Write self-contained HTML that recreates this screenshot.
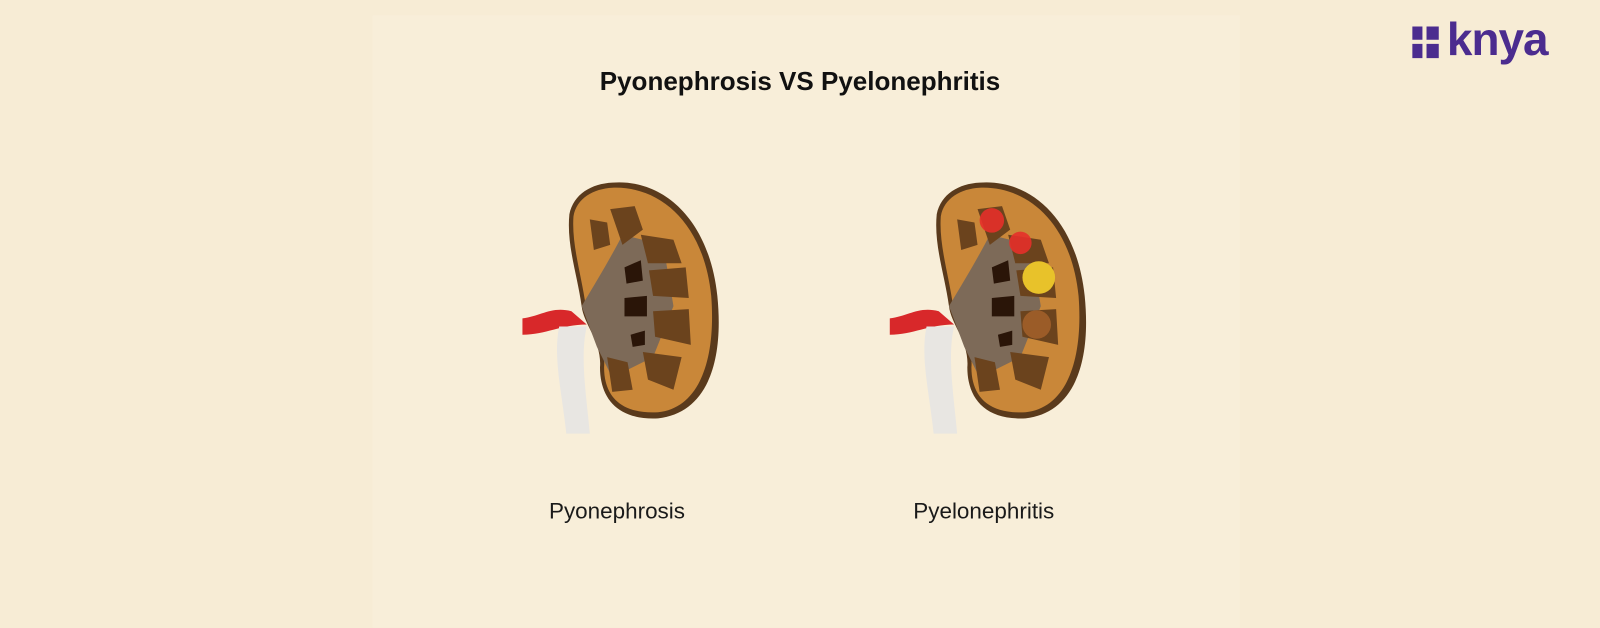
<!DOCTYPE html>
<html><head><style>
body{margin:0;width:1600px;height:625px;background:#f7ecd5;font-family:"Liberation Sans",sans-serif;position:relative;overflow:hidden}
#w{position:absolute;left:0;top:0;width:1568px;height:613px;transform:scale(1.0204);transform-origin:0 0}
.panel{position:absolute;left:365px;top:15px;width:850px;height:600px;background:#f8eed9}
.t{position:absolute;top:66px;left:0;width:1568px;text-align:center;font-weight:bold;font-size:25.5px;color:#111}
.l{position:absolute;top:488px;font-size:22px;color:#1a1a1a}
.logo{position:absolute;font-size:45px;font-weight:bold;color:#4b2c8f;letter-spacing:-1px}
</style></head><body><div id="w">
<div class="panel"></div>
<div class="t">Pyonephrosis VS Pyelonephritis</div>
<div class="l" style="left:538px">Pyonephrosis</div>
<div class="l" style="left:895px">Pyelonephritis</div>
<svg style="position:absolute;left:1384px;top:26px" width="28" height="32"><path d="M0 0 H10 V13 H0 Z M14 0 H26 V13 H14 Z M0 17 H10 V31 H0 Z M14 17 H26 V31 H14 Z" fill="#4b2c8f"/></svg>
<div class="logo" style="left:1418px;top:13px">knya</div>
<svg width="1568" height="613" style="position:absolute;left:0;top:0">
<defs>
<g id="k">
<path d="M560 305 C540 300 530 310 512 312 L512 328 C535 328 550 318 575 318 Z" fill="#d8282a"/>
<path d="M548 320 C542 350 550 380 555 425 L578 425 C575 390 568 350 575 320 Z" fill="#e8e6e2"/>
<path d="M600 179 C650 175 695 215 703 290 C710 360 690 405 645 410 C605 412 588 390 588 360 C590 335 572 318 570 300 C566 270 555 240 558 210 C562 190 580 180 600 179 Z" fill="#5a3a1c"/>
<path d="M600 184 C648 182 690 220 697 290 C702 355 684 400 645 404 C608 406 592 388 592 360 C594 335 576 318 574 300 C570 270 560 240 562 212 C565 194 582 185 600 184 Z" fill="#c98739"/>
<path d="M570 300 C585 275 600 250 610 230 L650 240 L660 300 L640 350 L600 370 L585 340 Z" fill="#7d6a58"/>
<path d="M598 205 L622 202 L630 225 L610 240 Z M628 230 L660 235 L668 258 L635 258 Z M636 265 L672 262 L675 292 L640 290 Z M640 305 L675 303 L677 338 L642 330 Z M630 345 L668 350 L660 382 L635 372 Z M595 350 L615 355 L620 382 L600 384 Z M578 215 L595 218 L598 240 L582 245 Z" fill="#6b431d"/>
<path d="M612 262 L628 255 L630 275 L614 278 Z M612 292 L634 290 L634 310 L612 310 Z M618 328 L632 324 L632 338 L620 340 Z" fill="#2a1508"/>
</g>
</defs>
<use href="#k"/>
<use href="#k" transform="translate(360,0)"/>
<circle cx="972" cy="216" r="12" fill="#e5302a" opacity=".9"/>
<circle cx="1000" cy="238" r="11" fill="#e5302a" opacity=".9"/>
<circle cx="1018" cy="272" r="16" fill="#e8c22a"/>
<circle cx="1016" cy="318" r="14" fill="#a8632c" opacity=".8"/>
</svg>
</div></body></html>
